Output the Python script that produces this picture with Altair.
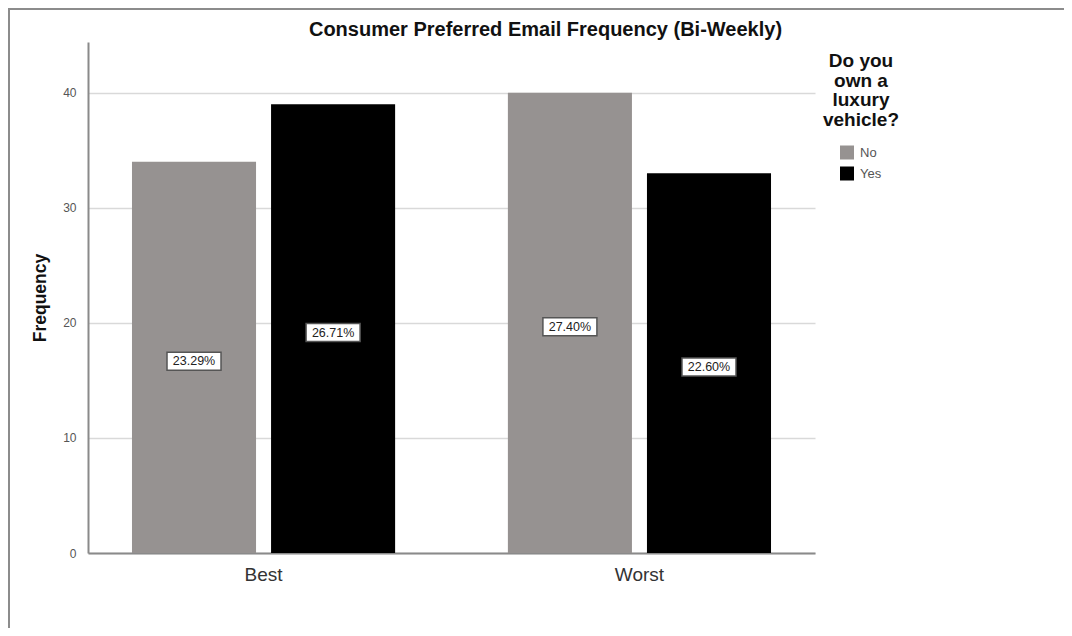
import altair as alt
import pandas as pd

categories = ["Best", "Best", "Worst", "Worst"]
groups = ["No", "Yes", "No", "Yes"]
counts = [34, 39, 40, 33]
pct_labels = ["23.29%", "26.71%", "27.40%", "22.60%"]

df = pd.DataFrame({"cat": categories, "grp": groups, "count": counts, "pct": pct_labels})
df["mid"] = df["count"] / 2.0

FONT = "Liberation Sans"
W, H = 727, 511
PAD = {"left": 80, "top": 34, "right": 249, "bottom": 75}

x = alt.X("cat:N", title=None, sort=["Best", "Worst"],
          scale=alt.Scale(paddingInner=0.30, paddingOuter=0.117),
          axis=alt.Axis(labelAngle=0, labelFontSize=19, labelColor="#333333", labelFont=FONT,
                        labelPadding=12, ticks=False, domainColor="#8a8a8a", domainWidth=2))
xoff = alt.XOffset("grp:N", sort=["No", "Yes"], scale=alt.Scale(paddingInner=0.108, paddingOuter=0))

bars = alt.Chart(df).mark_bar().encode(
    x=x,
    xOffset=xoff,
    y=alt.Y("count:Q", title="Frequency",
            scale=alt.Scale(domain=[0, 44.4], nice=False),
            axis=alt.Axis(values=[0, 10, 20, 30, 40], ticks=False, labelFontSize=12, labelColor="#555555",
                          labelFont=FONT, labelPadding=12, gridColor="#d9d9d9", gridWidth=1.5,
                          domainColor="#8a8a8a", domainWidth=2, titleFont=FONT, titleFontSize=17.5,
                          titleFontWeight="bold", titleColor="#111111", titlePadding=13)),
    color=alt.Color("grp:N", sort=["No", "Yes"],
                    scale=alt.Scale(domain=["No", "Yes"], range=["#969291", "#000000"]),
                    legend=alt.Legend(title=["Do you", "own a", "luxury", "vehicle?"],
                                      orient="none", legendX=735, legendY=10,
                                      titleFont=FONT, titleFontSize=19, titleFontWeight="bold",
                                      titleColor="#111111", titleLineHeight=19.5, titleAlign="center",
                                      titleAnchor="middle", titlePadding=16,
                                      symbolType="square", symbolSize=196, symbolStrokeWidth=0,
                                      labelFont=FONT, labelFontSize=13, labelColor="#555555",
                                      labelOffset=6, rowPadding=7)),
)

boxes = alt.Chart(df).mark_point(
    shape="M-1,-0.333H1V0.333H-1Z", size=2916, filled=True, fill="white",
    stroke="#555555", strokeWidth=1.5, opacity=1, yOffset=4
).encode(x=x, xOffset=xoff, y=alt.Y("mid:Q"))

texts = alt.Chart(df).mark_text(font=FONT, fontSize=12.5, color="#222222", yOffset=4).encode(
    x=x, xOffset=xoff, y=alt.Y("mid:Q"), text="pct:N")

# outer chart frame (decorative, top and left edges)
frame_top = alt.Chart(df).mark_rule(color="#8c8c8c", strokeWidth=2).encode(
    x=alt.value(-PAD["left"]), x2=alt.value(W + PAD["right"]), y=alt.value(-PAD["top"] + 1))
frame_left = alt.Chart(df).mark_rule(color="#8c8c8c", strokeWidth=2).encode(
    x=alt.value(-PAD["left"] + 1), y=alt.value(-PAD["top"]), y2=alt.value(H + PAD["bottom"]))

chart = alt.layer(bars, boxes, texts, frame_top, frame_left).properties(
    width=W, height=H,
    title=alt.TitleParams("Consumer Preferred Email Frequency (Bi-Weekly)", font=FONT, fontSize=20,
                          fontWeight="bold", color="#111111", anchor="middle", dx=94, offset=-33),
    autosize=alt.AutoSizeParams(type="none"),
    padding=PAD,
).configure(background="white").configure_view(strokeWidth=0)

chart.save("out.html", embed_options={"renderer": "svg", "actions": False})
